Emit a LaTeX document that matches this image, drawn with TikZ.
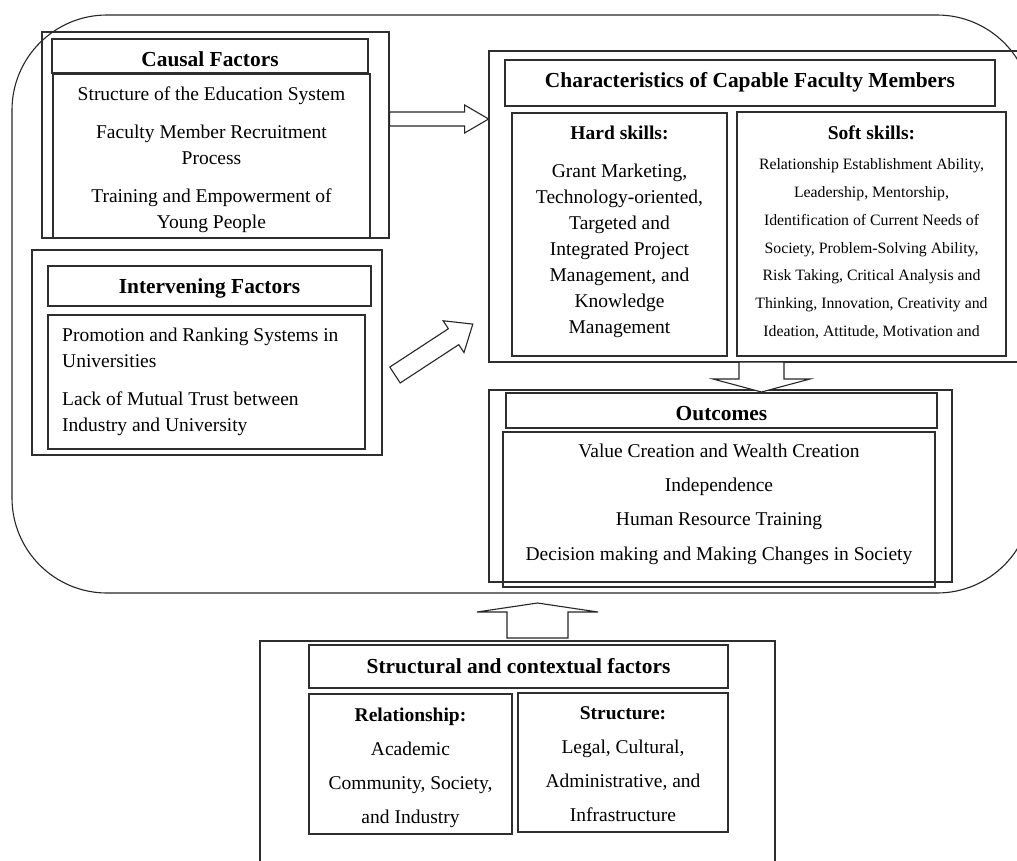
\documentclass[tikz,border=0pt]{standalone}
\usepackage{fontspec}
\setmainfont{Liberation Serif}
\usetikzlibrary{fit}
\begin{document}
\begin{tikzpicture}[x=1pt,y=-1pt,
  box/.style={draw=black!82, line width=1.2pt, inner sep=0pt},
  frame/.style={draw=black!85, line width=1.1pt},
  body/.style={font=\fontsize{19.5}{26}\selectfont, inner sep=0pt},
  outtext/.style={font=\fontsize{19.5}{34.3}\selectfont, inner sep=0pt},
  reltext/.style={font=\fontsize{19.5}{34}\selectfont, inner sep=0pt},
  softtext/.style={font=\fontsize{15.8}{27.8}\selectfont, inner sep=0pt},
  title/.style={font=\bfseries\fontsize{21.4}{26}\selectfont, inner sep=0pt},
  head/.style={font=\bfseries\fontsize{19.5}{26}\selectfont, inner sep=0pt},
  arrowline/.style={draw=black!85, line width=1.1pt, fill=white, line join=miter},
  pics/barrow/.style n args={4}{code={
    \path[arrowline] (0,-#2) -- ({#1-#4},-#2) -- ({#1-#4},-#3) -- (#1,0)
      -- ({#1-#4},#3) -- ({#1-#4},#2) -- (0,#2) -- cycle;}}
]
\useasboundingbox (0,0) rectangle (1017,860);
\clip (0,0) rectangle (1017,860);

% outer rounded frame
\draw[frame, rounded corners=95pt] (12,15) rectangle (1032,593);

% ---------- Causal factors ----------
\node[box, fit={(42,32)(389,238)}] (causal) {};
\node[box, fit={(52,39)(368,73)}] (causalT) {};
\node[box, fit={(53,74)(370,238)}] (causalB) {};
\node[title, anchor=base] (causalTt) at (210,66.5) {Causal Factors};
\node[body, anchor=north, align=center] (causalBt) at (211.5,81.8)
  {\strut Structure of the Education System\\[12pt]
   Faculty Member Recruitment\\Process\\[12pt]
   Training and Empowerment of\\Young People};

% ---------- Intervening factors ----------
\node[box, fit={(32,250)(382,455)}] (interv) {};
\node[box, fit={(48,266)(371,306)}] (intervT) {};
\node[box, fit={(48,315)(365,449)}] (intervB) {};
\node[title, anchor=base] (intervTt) at (209.5,293) {Intervening Factors};
\node[body, anchor=north west, align=left] (intervBt) at (62,322.8)
  {\strut Promotion and Ranking Systems in\\Universities\\[12pt]
   Lack of Mutual Trust between\\Industry and University};

% ---------- Characteristics ----------
\node[box, fit={(489,51)(1030,362)}] (charac) {};
\node[box, fit={(505,60)(995,106)}] (characT) {};
\node[box, fit={(512,113)(727,356)}] (hard) {};
\node[box, fit={(737,112)(1006,356)}] (soft) {};
\node[title, anchor=base] (characTt) at (750,87) {Characteristics of Capable Faculty Members};
\node[head, anchor=base] (hardH) at (619.5,139) {Hard skills:};
\node[body, anchor=north, align=center] (hardB) at (619.5,158.8)
  {\strut Grant Marketing,\\Technology-oriented,\\Targeted and\\Integrated Project\\Management, and\\Knowledge\\Management};
\node[head, anchor=base] (softH) at (871.5,139) {Soft skills:};
\node[softtext, anchor=north, align=center] (softB) at (871.5,150)
  {\strut Relationship Establishment Ability,\\Leadership, Mentorship,\\Identification of Current Needs of\\Society, Problem-Solving Ability,\\Risk Taking, Critical Analysis and\\Thinking, Innovation, Creativity and\\Ideation, Attitude, Motivation and};

% ---------- Outcomes ----------
\node[box, fit={(489,390)(952,582)}] (outc) {};
\node[box, fit={(506,393)(937,428)}] (outcT) {};
\node[box, fit={(503,432)(935,587)}] (outcB) {};
\node[title, anchor=base] (outcTt) at (721.5,420) {Outcomes};
\node[outtext, anchor=north, align=center] (outcBt) at (719,433)
  {\strut Value Creation and Wealth Creation\\Independence\\Human Resource Training\\Decision making and Making Changes in Society};

% ---------- Structural and contextual factors ----------
\node[box, fit={(260,641)(775,880)}] (struct) {};
\node[box, fit={(309,645)(728,688)}] (structT) {};
\node[box, fit={(309,694)(512,834)}] (rel) {};
\node[box, fit={(518,693)(728,832)}] (stru) {};
\node[title, anchor=base] (structTt) at (518.5,673) {Structural and contextual factors};
\node[head, anchor=base] (relH) at (410.5,721) {Relationship:};
\node[reltext, anchor=north, align=center] (relB) at (410.5,731.2)
  {\strut Academic\\Community, Society,\\and Industry};
\node[head, anchor=base] (struH) at (623,719) {Structure:};
\node[reltext, anchor=north, align=center] (struB) at (623,729.2)
  {\strut Legal, Cultural,\\Administrative, and\\Infrastructure};

% ---------- block arrows ----------
\coordinate (a1) at (causal.east |- 0,119);
\coordinate (a2) at (395,375);
\coordinate (a3) at (761.5,362);
\coordinate (a4) at (537.5,638);
\pic at (a1) {barrow={99}{7}{14}{24}};
\pic[rotate=33.2] at (a2) {barrow={93}{9.5}{19}{23}};
\pic[rotate=-90] at (a3) {barrow={30}{22.5}{48.5}{13}};
\pic[rotate=90] at (a4) {barrow={35}{30.5}{60.5}{9}};
\end{tikzpicture}
\end{document}
